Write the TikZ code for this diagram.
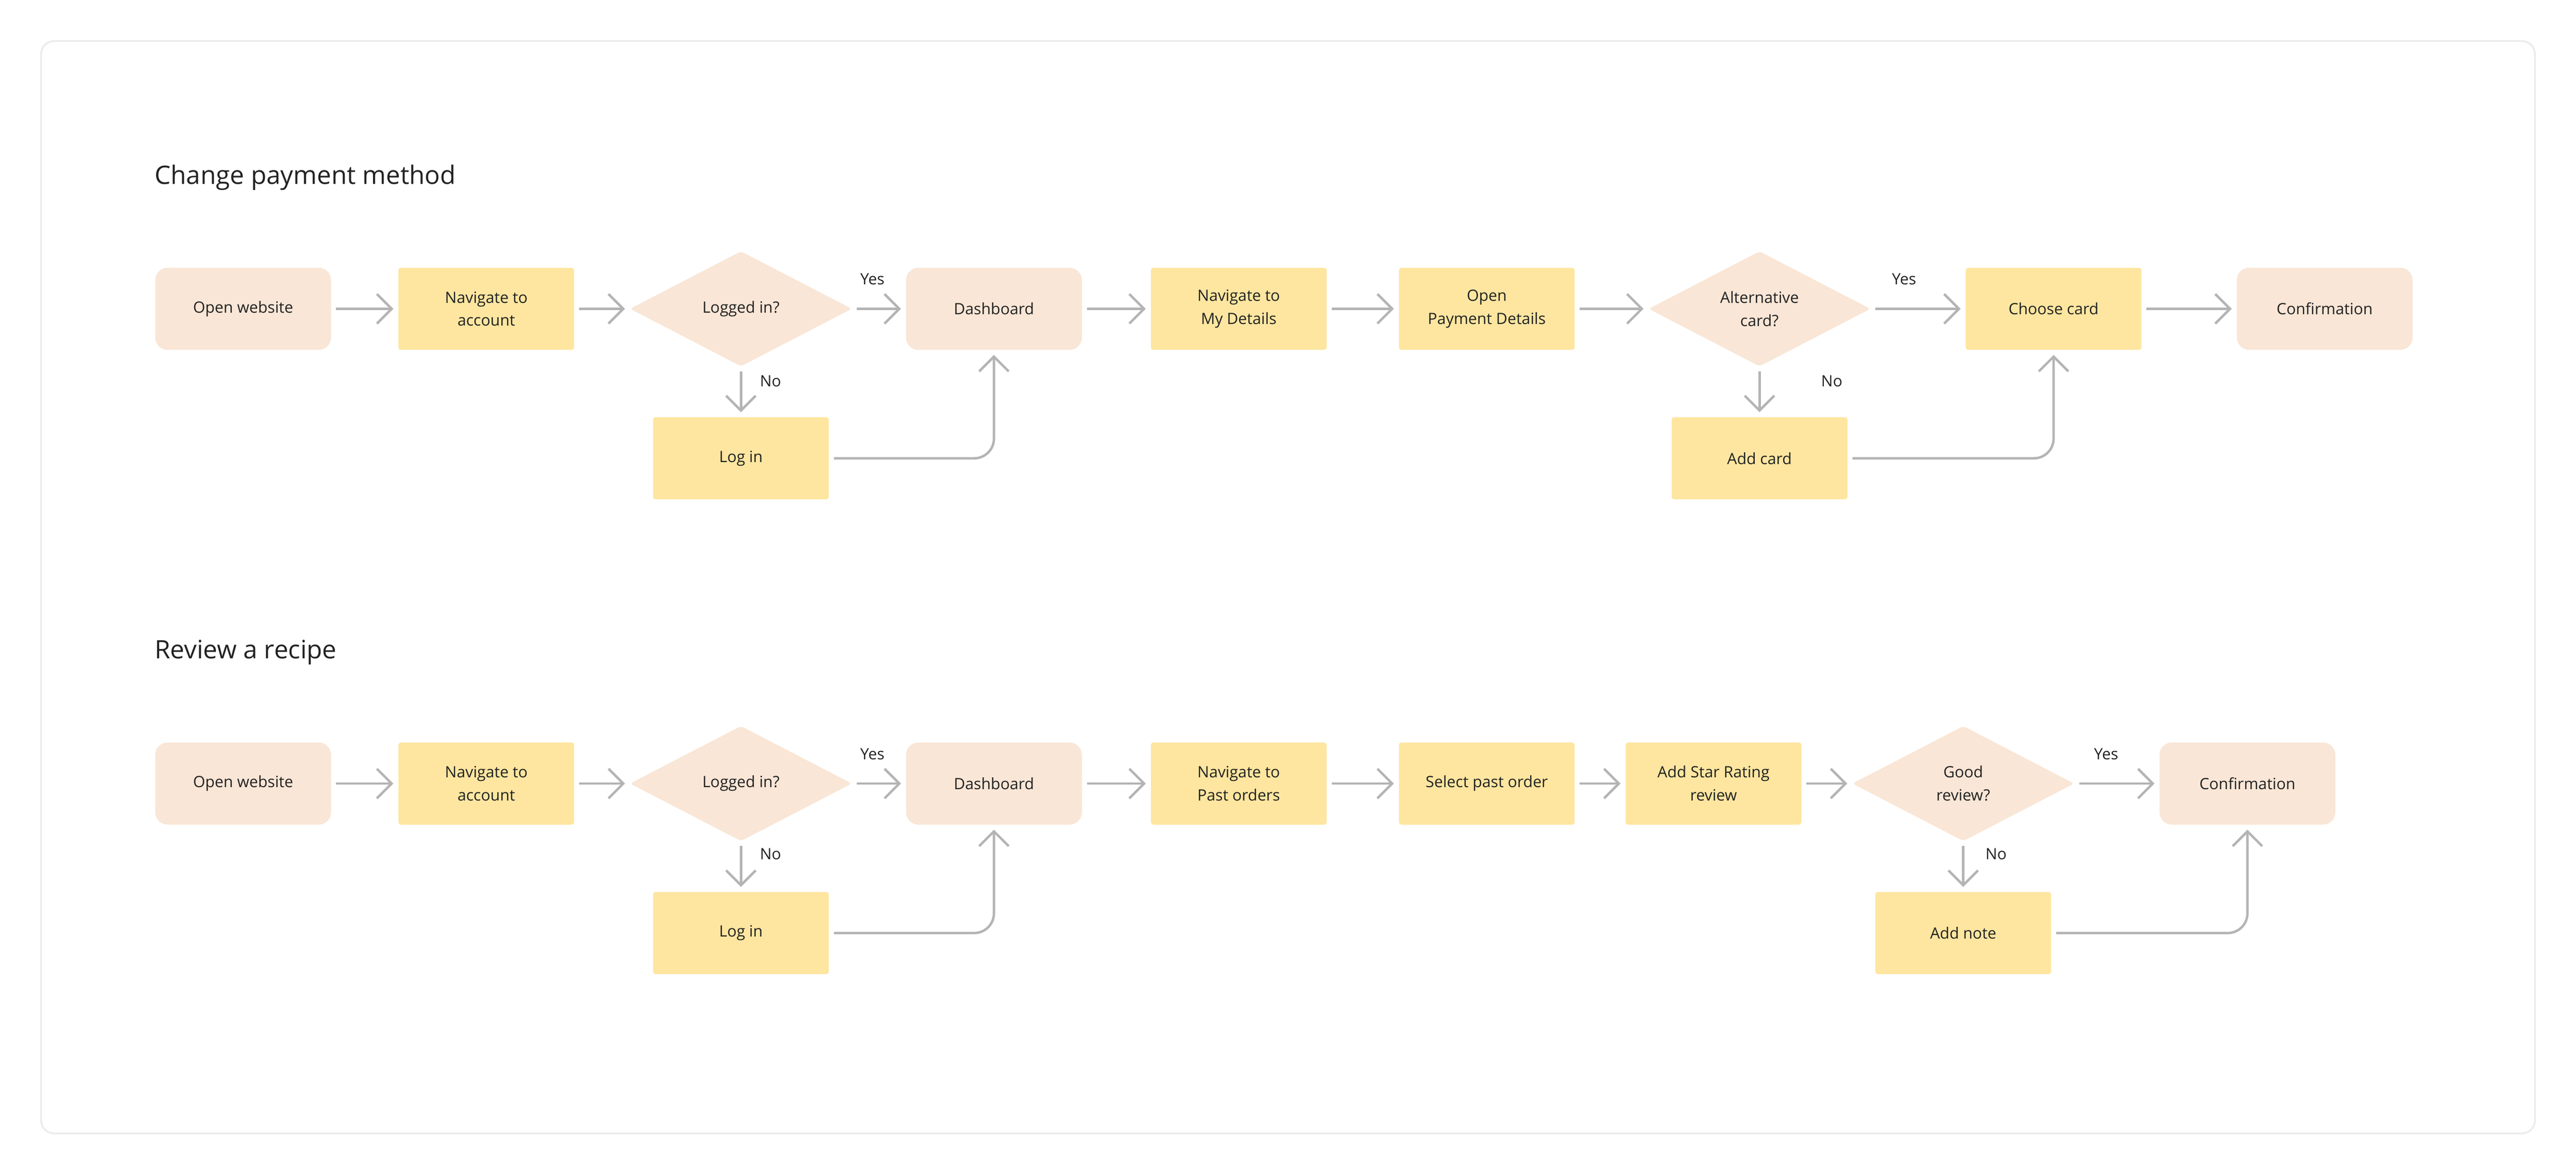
\documentclass[tikz,border=0pt]{standalone}
\usepackage{fontspec}
\setmainfont{Open Sans}
\usetikzlibrary{shapes.geometric,arrows.meta}
\definecolor{peach}{HTML}{F9E6D6}
\definecolor{yel}{HTML}{FEE6A0}
\definecolor{arr}{HTML}{B4B4B4}
\definecolor{txt}{HTML}{222222}
\begin{document}
\begin{tikzpicture}[x=0.1cm,y=-0.1cm,
  every node/.style={text=txt,font=\fontsize{27}{40}\selectfont,align=center},
  term/.style={fill=peach,rounded corners=0.75cm,minimum width=10.7cm,minimum height=5cm,inner sep=0},
  proc/.style={fill=yel,rounded corners=0.15cm,minimum width=10.7cm,minimum height=5cm,inner sep=0},
  dec/.style={diamond,fill=peach,aspect=1.93,minimum width=13.5cm,minimum height=7cm,inner sep=0,rounded corners=0.2cm},
  lab/.style={font=\fontsize{27}{32}\selectfont},
  title/.style={font=\fontsize{44}{50}\selectfont,anchor=west},
  ar/.style={draw=arr,line width=4.2pt,-{Straight Barb[length=0.9cm,width=1.8cm,line width=4.2pt]},shorten <=0.3cm,shorten >=0.3cm},
  back/.style={ar,rounded corners=1.2cm}]
\useasboundingbox (0,0) rectangle (1568,714.5);
\draw[draw=black!8,line width=3pt,rounded corners=0.8cm] (25,25) rectangle (1543,690);
\node[title] (t1) at (93,108) {Change payment method};
\node[title] (t2) at (93,397) {Review a recipe};
% row 1
\node[term] (a1) at (148,188) {Open website};
\node[proc] (a2) at (296,188) {Navigate to\\account};
\node[dec] (a3) at (451,188) {Logged in?};
\node[term] (a4) at (605,188) {Dashboard};
\node[proc] (a5) at (754,188) {Navigate to\\My Details};
\node[proc] (a6) at (905,188) {Open\\Payment Details};
\node[dec] (a7) at (1071,188) {Alternative\\card?};
\node[proc] (a8) at (1250,188) {Choose card};
\node[term] (a9) at (1415,188) {Confirmation};
\node[proc] (l1) at (451,279) {Log in};
\node[proc] (c1) at (1071,279) {Add card};
\draw[ar] (a1) -- (a2); \draw[ar] (a2) -- (a3); \draw[ar] (a3) -- (a4);
\draw[ar] (a4) -- (a5); \draw[ar] (a5) -- (a6); \draw[ar] (a6) -- (a7);
\draw[ar] (a7) -- (a8); \draw[ar] (a8) -- (a9);
\draw[ar] (a3) -- (l1); \draw[ar] (a7) -- (c1);
\draw[back] (l1.east) -| (a4.south);
\draw[back] (c1.east) -| (a8.south);
\node[lab] (y1) at (531,170) {Yes};
\node[lab] (n1) at (469,232) {No};
\node[lab] (y2) at (1159,170) {Yes};
\node[lab] (n2) at (1115,232) {No};
% row 2
\node[term] (b1) at (148,477) {Open website};
\node[proc] (b2) at (296,477) {Navigate to\\account};
\node[dec] (b3) at (451,477) {Logged in?};
\node[term] (b4) at (605,477) {Dashboard};
\node[proc] (b5) at (754,477) {Navigate to\\Past orders};
\node[proc] (b6) at (905,477) {Select past order};
\node[proc] (b7) at (1043,477) {Add Star Rating\\review};
\node[dec] (b8) at (1195,477) {Good\\review?};
\node[term] (b9) at (1368,477) {Confirmation};
\node[proc] (l2) at (451,568) {Log in};
\node[proc] (d2) at (1195,568) {Add note};
\draw[ar] (b1) -- (b2); \draw[ar] (b2) -- (b3); \draw[ar] (b3) -- (b4);
\draw[ar] (b4) -- (b5); \draw[ar] (b5) -- (b6); \draw[ar] (b6) -- (b7);
\draw[ar] (b7) -- (b8); \draw[ar] (b8) -- (b9);
\draw[ar] (b3) -- (l2); \draw[ar] (b8) -- (d2);
\draw[back] (l2.east) -| (b4.south);
\draw[back] (d2.east) -| (b9.south);
\node[lab] (y3) at (531,459) {Yes};
\node[lab] (n3) at (469,520) {No};
\node[lab] (y4) at (1282,459) {Yes};
\node[lab] (n4) at (1215,520) {No};
\end{tikzpicture}
\end{document}
